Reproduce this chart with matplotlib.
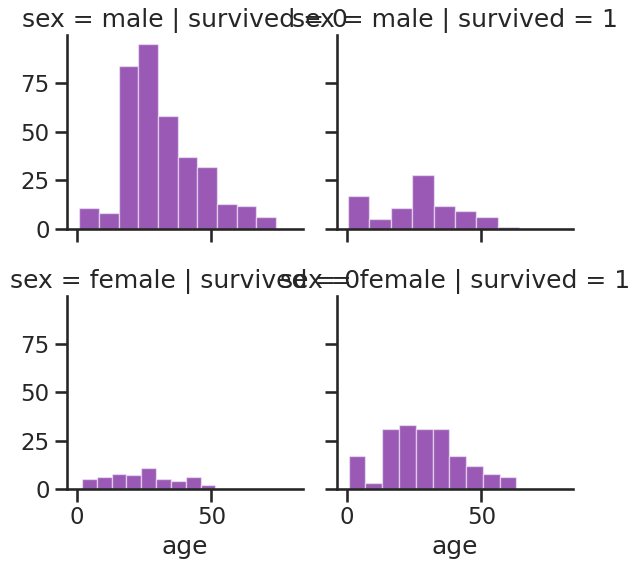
import matplotlib
matplotlib.use('Agg')

import numpy as np
import matplotlib.pyplot as plt
import seaborn as sns

sns.set_theme(style="ticks", context="talk")
plt.rcParams['font.family'] = ['DejaVu Sans']

# DATA: age histograms per facet (10 bins each, own range per facet)
TITLES = [
    "sex = male | survived = 0",
    "sex = male | survived = 1",
    "sex = female | survived = 0",
    "sex = female | survived = 1",
]
AGE_RANGES = [
    (1.0, 74.0),
    (0.42, 80.0),
    (2.0, 57.0),
    (0.75, 63.0),
]
male_died      = [11, 8, 84, 95, 58, 37, 32, 13, 12, 6]
male_survived  = [17, 5, 11, 28, 12, 9, 6, 1, 0, 0]
female_died    = [5, 6, 8, 7, 11, 5, 4, 6, 2, 0]
female_survived = [17, 3, 31, 33, 31, 31, 17, 12, 8, 6]
COUNTS = [male_died, male_survived, female_died, female_survived]

X_TICKS = [0, 50]
Y_TICKS = [0, 25, 50, 75]
COLOUR = "#9b59b6"

fig = plt.figure(figsize=(6.39, 5.65), dpi=100)

positions = [
    [0.1049, 0.5947, 0.3693, 0.3434],
    [0.5274, 0.5947, 0.3693, 0.3434],
    [0.1049, 0.1345, 0.3693, 0.3416],
    [0.5274, 0.1345, 0.3693, 0.3416],
]

axes = [fig.add_axes(p) for p in positions]

for i, ax in enumerate(axes):
    lo, hi = AGE_RANGES[i]
    edges = np.linspace(lo, hi, len(COUNTS[i]) + 1)
    ax.bar(edges[:-1], COUNTS[i], width=np.diff(edges), align="edge",
           color=COLOUR, edgecolor=(1, 1, 1, 0.5), linewidth=1)

    ax.set_xlim(-3.56, 83.98)
    ax.set_ylim(0, 99.75)
    ax.set_xticks(X_TICKS)
    ax.set_yticks(Y_TICKS)
    ax.set_title(TITLES[i], fontsize=18)
    sns.despine(ax=ax)

    if i < 2:
        ax.set_xticklabels([])
    else:
        ax.set_xlabel("age")
    if i % 2 == 1:
        ax.set_yticklabels([])

fig.savefig("out.png", dpi=100)
